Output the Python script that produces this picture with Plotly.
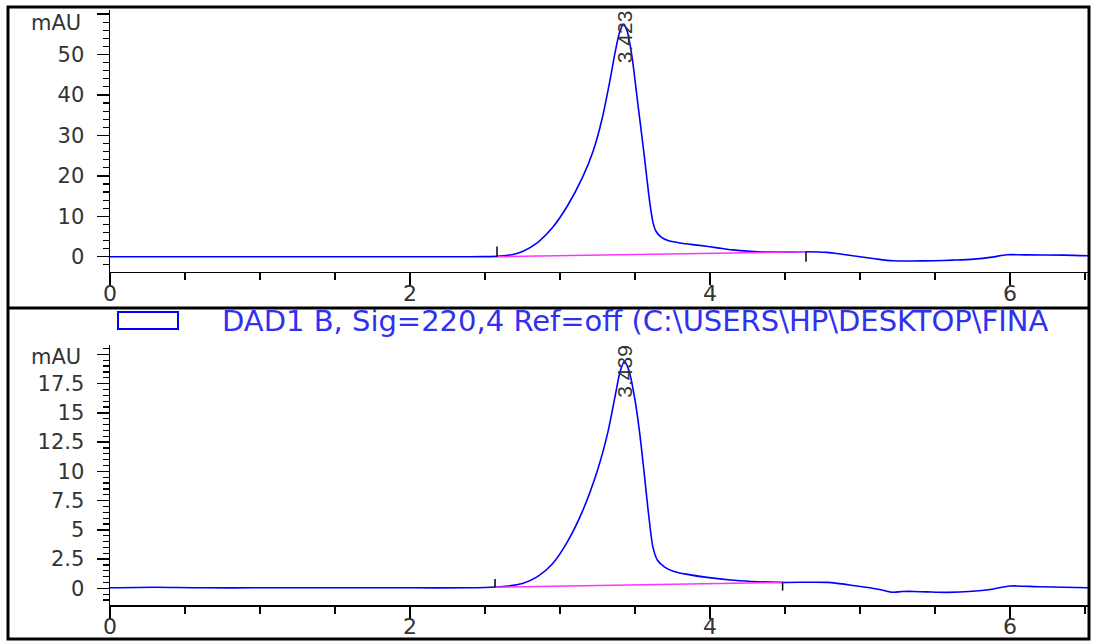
import plotly.graph_objects as go

W, H = 1093, 642

# ---------------- data ----------------
top_time = [0.0, 0.5, 1.0, 1.5, 2.0, 2.3, 2.5, 2.6, 2.68, 2.75, 2.85, 2.95, 3.05, 3.15, 3.22,
            3.28, 3.33, 3.37, 3.40, 3.425, 3.45, 3.48, 3.52, 3.56, 3.60, 3.62, 3.64, 3.67,
            3.72, 3.80, 3.93, 4.05, 4.15, 4.27, 4.38, 4.5, 4.64, 4.78, 4.88, 5.0, 5.1, 5.22,
            5.35, 5.49, 5.62, 5.76, 5.88, 5.98, 6.1, 6.36, 6.52]
top_mau = [0.0, 0.0, 0.0, 0.0, 0.0, 0.0, 0.03, 0.15, 0.5, 1.3, 3.5, 7.2, 12.6, 19.6, 26.0,
           34.0, 43.0, 51.0, 55.8, 57.5, 55.5, 49.5, 37.5, 25.5, 13.0, 8.5, 6.3, 5.0,
           4.0, 3.4, 2.8, 2.2, 1.7, 1.35, 1.15, 1.15, 1.24, 1.07, 0.6, 0.0, -0.5, -1.0,
           -1.05, -1.0, -0.85, -0.6, -0.1, 0.5, 0.45, 0.4, 0.25]

bot_time = [0.0, 0.3, 0.6, 1.0, 1.5, 2.0, 2.4, 2.5, 2.57, 2.65, 2.75, 2.85, 2.95, 3.05, 3.15,
            3.25, 3.32, 3.37, 3.40, 3.43, 3.46, 3.50, 3.53, 3.56, 3.59, 3.62, 3.65, 3.70,
            3.76, 3.85, 3.98, 4.2, 4.48, 4.78, 4.98, 5.13, 5.22, 5.28, 5.36, 5.45, 5.58,
            5.75, 5.87, 6.0, 6.2, 6.52]
bot_mau = [0.05, 0.1, 0.05, 0.05, 0.05, 0.05, 0.05, 0.08, 0.12, 0.2, 0.42, 1.0, 2.1, 4.0, 6.6,
           10.1, 13.4, 16.6, 18.5, 19.4, 18.6, 16.1, 13.4, 10.0, 6.4, 3.5, 2.4, 1.8,
           1.45, 1.2, 0.94, 0.65, 0.51, 0.51, 0.2, -0.09, -0.33, -0.27, -0.26, -0.3, -0.34,
           -0.25, -0.09, 0.2, 0.14, 0.05]

# integration baselines (start, end) for each peak
top_base_t = [2.58, 4.64]
top_base_v = [0.0, 1.24]
bot_base_t = [2.567, 4.484]
bot_base_v = [0.1, 0.51]

top_peak_label = "3.423"
bot_peak_label = "3.439"
top_peak_rt = 3.43
bot_peak_rt = 3.43

top_yticks = [0, 10, 20, 30, 40, 50, 60]
top_yticktext = ["0", "10", "20", "30", "40", "50", ""]
bot_yticks = [0, 2.5, 5, 7.5, 10, 12.5, 15, 17.5, 20]
bot_yticktext = ["0", "2.5", "5", "7.5", "10", "12.5", "15", "17.5", ""]
xticks = [0, 2, 4, 6]
xticktext = ["0", "2", "4", "6"]
y_unit = "mAU"

legend_text = "DAD1 B, Sig=220,4 Ref=off (C:\\USERS\\HP\\DESKTOP\\FINA"

# ---------------- layout helpers ----------------
def px_x(p):
    return p / W

def px_y(p):
    return 1 - p / H

BLUE = "#0000ff"
PINK = "#ff33ff"
TXT = "#333333"
FONT = "DejaVu Sans"

fig = go.Figure()

line_style = dict(color=BLUE, width=1.6, shape="spline", smoothing=0.8)

# top chromatogram
fig.add_trace(go.Scatter(x=top_time, y=top_mau, mode="lines", line=line_style,
                         xaxis="x", yaxis="y", showlegend=False, hoverinfo="skip"))
fig.add_trace(go.Scatter(x=top_base_t, y=top_base_v, mode="lines",
                         line=dict(color=PINK, width=1.5),
                         xaxis="x", yaxis="y", showlegend=False, hoverinfo="skip"))
top_tick_h = 2.5
fig.add_trace(go.Scatter(x=[top_base_t[0], top_base_t[0], None, top_base_t[1], top_base_t[1]],
                         y=[top_base_v[0], top_base_v[0] + top_tick_h, None,
                            top_base_v[1], top_base_v[1] - top_tick_h],
                         mode="lines", line=dict(color="black", width=1.5),
                         xaxis="x", yaxis="y", showlegend=False, hoverinfo="skip"))

# bottom chromatogram
fig.add_trace(go.Scatter(x=bot_time, y=bot_mau, mode="lines", line=line_style,
                         xaxis="x2", yaxis="y2", showlegend=False, hoverinfo="skip"))
fig.add_trace(go.Scatter(x=bot_base_t, y=bot_base_v, mode="lines",
                         line=dict(color=PINK, width=1.5),
                         xaxis="x2", yaxis="y2", showlegend=False, hoverinfo="skip"))
bot_tick_h = 0.7
fig.add_trace(go.Scatter(x=[bot_base_t[0], bot_base_t[0], None, bot_base_t[1], bot_base_t[1]],
                         y=[bot_base_v[0], bot_base_v[0] + bot_tick_h, None,
                            bot_base_v[1], bot_base_v[1] - bot_tick_h],
                         mode="lines", line=dict(color="black", width=1.5),
                         xaxis="x2", yaxis="y2", showlegend=False, hoverinfo="skip"))

xdom = [px_x(110), px_x(1088)]

common_x = dict(range=[0, 6.52], domain=xdom, showgrid=False, zeroline=False,
                showline=True, linecolor="black", linewidth=1.5, automargin=False,
                tickvals=xticks, ticktext=xticktext, ticks="outside", ticklen=12,
                tickwidth=1.5, tickcolor="black", ticklabelstandoff=-11,
                minor=dict(dtick=0.5, tick0=0, ticks="outside", ticklen=7,
                           tickcolor="black", tickwidth=1.5),
                tickfont=dict(family=FONT, size=22, color=TXT), fixedrange=True)

common_y = dict(showgrid=False, zeroline=False, showline=True, linecolor="black",
                linewidth=1.5, ticks="outside", ticklen=12, tickwidth=1.5, automargin=False,
                tickcolor="black", tickfont=dict(family=FONT, size=21, color=TXT),
                ticklabelstandoff=8, fixedrange=True)

fig.update_layout(
    width=W, height=H,
    margin=dict(l=0, r=0, t=0, b=0, autoexpand=False),
    paper_bgcolor="white", plot_bgcolor="white",
    xaxis=dict(**common_x, anchor="y"),
    yaxis=dict(**common_y, anchor="x", range=[-3.7, 61],
               domain=[px_y(271.7), px_y(10)],
               tickvals=top_yticks, ticktext=top_yticktext,
               minor=dict(dtick=2, tick0=0, ticks="outside", ticklen=6,
                          tickcolor="black", tickwidth=1.2)),
    xaxis2=dict(**common_x, anchor="y2"),
    yaxis2=dict(**common_y, anchor="x2", range=[-1.42, 20.8],
                domain=[px_y(605), px_y(345)],
                tickvals=bot_yticks, ticktext=bot_yticktext,
                minor=dict(dtick=0.5, tick0=0, ticks="outside", ticklen=6,
                           tickcolor="black", tickwidth=1.2)),
)

# frame and divider
fig.add_shape(type="rect", xref="paper", yref="paper",
              x0=px_x(8), x1=px_x(1089), y0=px_y(639), y1=px_y(7),
              line=dict(color="black", width=3), layer="above")
fig.add_shape(type="line", xref="paper", yref="paper",
              x0=px_x(8), x1=px_x(1089), y0=px_y(308), y1=px_y(308),
              line=dict(color="black", width=3), layer="above")

# legend row
fig.add_shape(type="rect", xref="paper", yref="paper",
              x0=px_x(118), x1=px_x(178), y0=px_y(329), y1=px_y(312),
              line=dict(color=BLUE, width=2))
fig.add_annotation(xref="paper", yref="paper", x=px_x(220), y=px_y(321),
                   text=legend_text, showarrow=False, xanchor="left", yanchor="middle",
                   font=dict(family=FONT, size=29, color="#3030f0"))

# unit labels
fig.add_annotation(xref="paper", yref="paper", x=px_x(83), y=px_y(23),
                   text=y_unit, showarrow=False, xanchor="right", yanchor="middle",
                   font=dict(family=FONT, size=21, color=TXT))
fig.add_annotation(xref="paper", yref="paper", x=px_x(83), y=px_y(357),
                   text=y_unit, showarrow=False, xanchor="right", yanchor="middle",
                   font=dict(family=FONT, size=21, color=TXT))

# peak labels
fig.add_annotation(xref="x", yref="y", x=top_peak_rt, y=54.4, text=top_peak_label,
                   textangle=-90, showarrow=False,
                   font=dict(family="Liberation Sans", size=21, color=TXT))
fig.add_annotation(xref="x2", yref="y2", x=bot_peak_rt, y=18.56, text=bot_peak_label,
                   textangle=-90, showarrow=False,
                   font=dict(family="Liberation Sans", size=21, color=TXT))

fig.write_html("out.html", config={"displayModeBar": False, "staticPlot": True},
               post_script="document.body.style.margin='0';document.body.style.overflow='hidden';")
